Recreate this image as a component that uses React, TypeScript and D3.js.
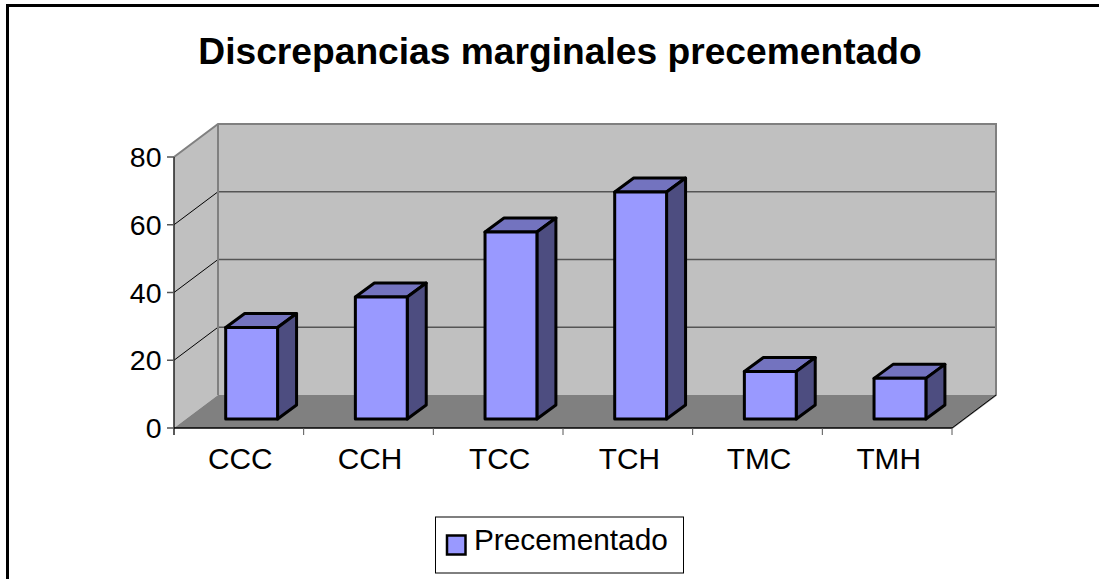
import React from 'react';
import * as d3 from 'd3';

const categories = ['CCC', 'CCH', 'TCC', 'TCH', 'TMC', 'TMH'];
const values = [27, 36, 55.2, 67, 14, 12];
const yTicks = [0, 20, 40, 60, 80];
const titleText = 'Discrepancias marginales precementado';
const seriesName = 'Precementado';

const W = 1099, H = 579;
const x0 = 174, x1 = 952, yBase = 428, yTop = 157;
const dx = 44, dy = -33;
const bx = 19, by = -14;

const y = d3.scaleLinear().domain([0, 80]).range([yBase, yTop]);
const x = d3.scaleBand<string>().domain(categories).range([x0, x1]).paddingInner(0);
const barW = x.bandwidth() * 0.4;
const poly = (pts: [number, number][]) => pts.map(p => p.join(',')).join(' ');
const BF = 'Liberation Sans, Arial, sans-serif';

export default function App() {
  return (
    <svg width={W} height={H} style={{ position: 'absolute', left: 0, top: 0, background: '#fff' }} fontFamily={BF}>
      <path d={`M7.5 ${H}V5.5H${W}`} fill="none" stroke="#000" strokeWidth={3} />
      <text x={560} y={64} textAnchor="middle" fontWeight={700} fill="#000" style={{ fontSize: 37.2 }}>{titleText}</text>

      <polygon points={poly([[x0, yBase], [x0 + dx, yBase + dy], [x0 + dx, yTop + dy], [x0, yTop]])} fill="#c0c0c0" />
      <polygon points={poly([[x0 + dx, yBase + dy], [x1 + dx, yBase + dy], [x1 + dx, yTop + dy], [x0 + dx, yTop + dy]])} fill="#c0c0c0" />
      <polygon points={poly([[x0, yBase], [x1, yBase], [x1 + dx, yBase + dy], [x0 + dx, yBase + dy]])} fill="#808080" />

      {yTicks.slice(1, -1).map(t => (
        <g key={t} fill="none">
          <line x1={x0} x2={x0 + dx} y1={y(t)} y2={y(t) + dy} stroke="#000" strokeWidth={1} />
          <line x1={x0 + dx} x2={x1 + dx} y1={y(t) + dy} y2={y(t) + dy} stroke="#555" strokeWidth={1.5} />
        </g>
      ))}
      <polyline points={poly([[x0, yTop], [x0 + dx, yTop + dy], [x1 + dx, yTop + dy], [x1 + dx, yBase + dy], [x1, yBase]])} fill="none" stroke="#808080" strokeWidth={2} />
      <polyline points={poly([[x0 + dx, yTop + dy], [x0 + dx, yBase + dy]])} fill="none" stroke="#808080" strokeWidth={2} />
      <line x1={x1} x2={x1 + dx} y1={yBase} y2={yBase + dy} stroke="#000" strokeWidth={1} />

      <line x1={x0} x2={x0} y1={yTop} y2={yBase + 7} stroke="#222" strokeWidth={1.5} />
      <line x1={x0} x2={x1} y1={yBase} y2={yBase} stroke="#000" strokeWidth={1.5} />
      {yTicks.map(t => (
        <g key={t}>
          <line x1={x0 - 7} x2={x0} y1={y(t)} y2={y(t)} stroke="#555" strokeWidth={1.5} />
          <text x={x0 - 12.5} y={y(t) + 10} textAnchor="end" style={{ fontSize: 28.5 }}>{t}</text>
        </g>
      ))}
      {d3.range(1, categories.length + 1).map(i => {
        const px = x0 + i * x.step();
        return <line key={i} x1={px} x2={px} y1={yBase} y2={yBase + 7} stroke="#555" strokeWidth={1} />;
      })}
      {categories.map(c => (
        <text key={c} x={(x(c) as number) + x.bandwidth() / 2 + 1.5} y={469} textAnchor="middle" style={{ fontSize: 29.8 }}>{c}</text>
      ))}

      {categories.map((c, i) => {
        const l = (x(c) as number) + x.bandwidth() / 2 + 12.8 - barW / 2;
        const r = l + barW;
        const b = y(0) - 9;
        const t = b - (y(0) - y(values[i]));
        return (
          <g key={c} stroke="#000" strokeWidth={3} strokeLinejoin="round">
            <polygon points={poly([[l, t], [r, t], [r + bx, t + by], [l + bx, t + by]])} fill="#7373bf" />
            <polygon points={poly([[r, t], [r + bx, t + by], [r + bx, b + by], [r, b]])} fill="#4d4d80" />
            <rect x={l} y={t} width={barW} height={b - t} fill="#9999ff" />
          </g>
        );
      })}

      <rect x={435.5} y={517} width={248} height={56} fill="#fff" stroke="#000" strokeWidth={1} />
      <rect x={447} y={535.5} width={18.5} height={19} fill="#9999ff" stroke="#000" strokeWidth={2.5} />
      <text x={474} y={550} style={{ fontSize: 29.8 }}>{seriesName}</text>
    </svg>
  );
}
